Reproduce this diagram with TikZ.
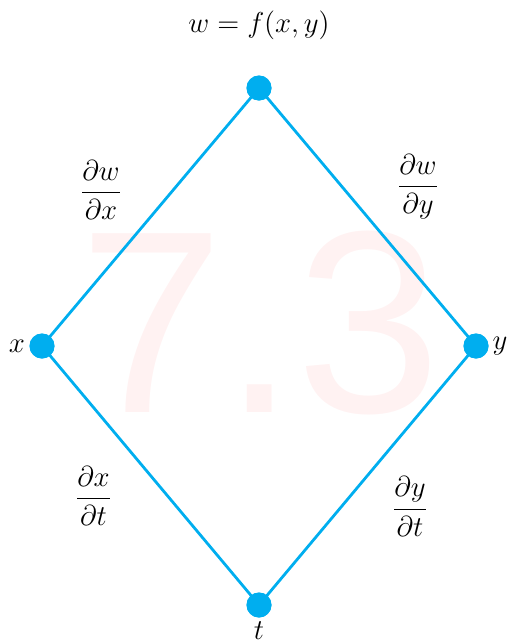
\documentclass[tikz,border=0pt]{standalone}
\usepackage{amsmath}
\usepackage{fontspec}
\newfontfamily\wmfont{Liberation Sans}
\definecolor{edgecyan}{RGB}{0,174,239}
\definecolor{wmpink}{RGB}{255,242,242}
\begin{document}
\begin{tikzpicture}[x=1pt,y=1pt,
  vdot/.style={circle,fill=edgecyan,inner sep=0pt,minimum size=12.5pt},
  edge/.style={draw=edgecyan,line width=1.4pt},
  lbl/.style={inner sep=0pt,font=\fontsize{14}{17}\selectfont}]
\useasboundingbox (0,0) rectangle (253.5,-321.5);
% watermark
\node[anchor=base,inner sep=0pt,text=wmpink] (wm) at (130,-206)
  {\wmfont\fontsize{130}{130}\selectfont 7.3};
% vertices
\node[vdot] (top) at (129.5,-44) {};
\node[vdot] (lft) at (21,-173) {};
\node[vdot] (rgt) at (238,-173) {};
\node[vdot] (bot) at (129.5,-302.5) {};
% edges
\draw[edge] (top.center) -- (lft.center) -- (bot.center) -- (rgt.center) -- (top.center);
\node[vdot] at (top) {};
\node[vdot] at (lft) {};
\node[vdot] at (rgt) {};
\node[vdot] at (bot) {};
% labels
\node[lbl] (fn) at (129.5,-12.5) {$w=f(x,y)$};
\node[lbl] (lx) at (8.5,-173) {$x$};
\node[lbl] (ly) at (250,-173) {$y$};
\node[lbl] (lt) at (129.5,-315.5) {$t$};
\node[lbl] (dwdx) at (50.5,-95) {$\dfrac{\partial w}{\partial x}$};
\node[lbl] (dwdy) at (209,-93.3) {$\dfrac{\partial w}{\partial y}$};
\node[lbl] (dxdt) at (46.75,-248) {$\dfrac{\partial x}{\partial t}$};
\node[lbl] (dydt) at (205,-253.3) {$\dfrac{\partial y}{\partial t}$};
\end{tikzpicture}
\end{document}
